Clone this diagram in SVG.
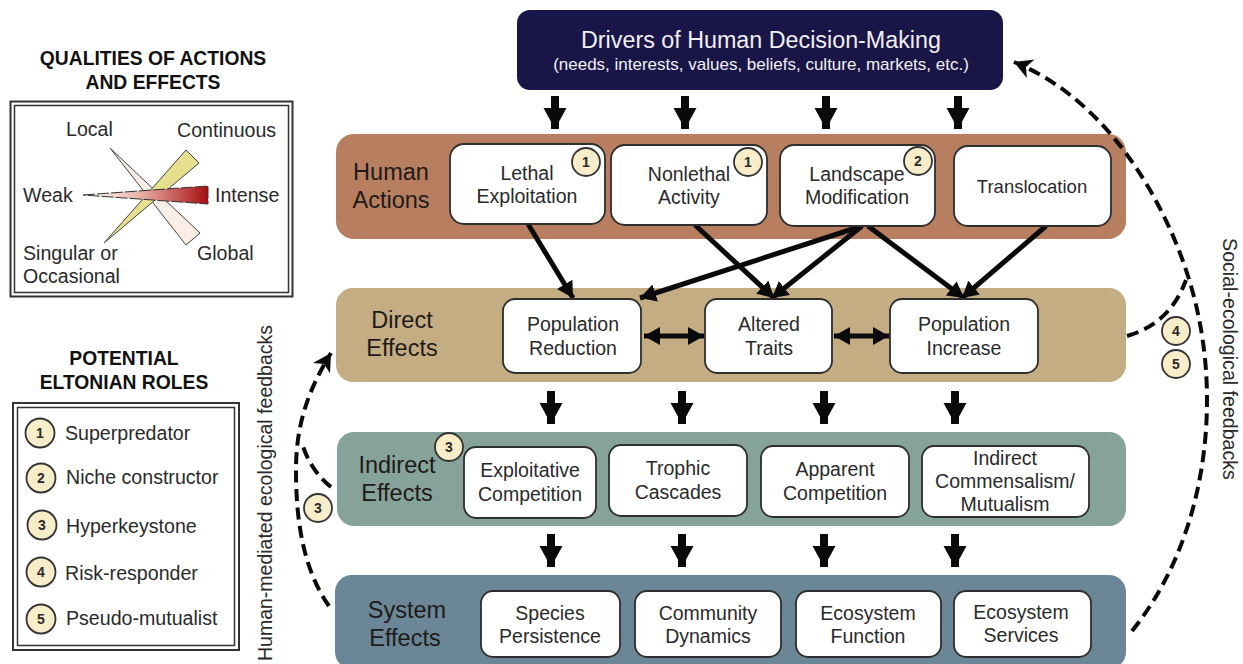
<svg xmlns="http://www.w3.org/2000/svg" width="1243" height="664" viewBox="0 0 1243 664">
<style>
text{font-family:"Liberation Sans",Arial,sans-serif;fill:#2a2a2a;text-anchor:middle}
.t{font-size:19.500px}
.h{font-size:23.500px;fill:#1f1a18}
.q{font-size:19.300px;font-weight:bold;fill:#111}
.l{font-size:19.600px;text-anchor:start}
.b{fill:#fff;stroke:#2e2e2e;stroke-width:1.800}
.c{fill:#f7edc8;stroke:#333;stroke-width:1.800}
.n{font-size:14px;font-weight:bold}
.a{stroke:#0a0a0a;stroke-width:5;fill:none;marker-end:url(#ah)}
.v{stroke:#0a0a0a;stroke-width:8;fill:none;marker-end:url(#vh)}
.d{stroke:#0a0a0a;stroke-width:5;fill:none;marker-end:url(#ah);marker-start:url(#as)}
.f{stroke:#0a0a0a;stroke-width:4;fill:none;stroke-dasharray:12 6.500}
</style>
<defs>
<marker id="ah" markerUnits="userSpaceOnUse" markerWidth="20" markerHeight="20" refX="16" refY="9" orient="auto"><path d="M0 0L16 9L0 18Z" fill="#0a0a0a"/></marker>
<marker id="as" markerUnits="userSpaceOnUse" markerWidth="20" markerHeight="20" refX="0" refY="9" orient="auto"><path d="M16 0L0 9L16 18Z" fill="#0a0a0a"/></marker>
<marker id="vh" markerUnits="userSpaceOnUse" markerWidth="24" markerHeight="26" refX="21" refY="11.500" orient="auto"><path d="M0 0L21 11.500L0 23Z" fill="#0a0a0a"/></marker>
<marker id="fh" markerUnits="userSpaceOnUse" markerWidth="24" markerHeight="24" refX="18" refY="10" orient="auto"><path d="M0 0L18 10L0 20L5 10Z" fill="#0a0a0a"/></marker>
<linearGradient id="red"><stop offset="0" stop-color="#fff"/><stop offset=".45" stop-color="#e8b4a8"/><stop offset="1" stop-color="#a80e12"/></linearGradient>
</defs>

<g id="legend-qualities">
<text class="q" x="153" y="65">QUALITIES OF ACTIONS</text>
<text class="q" x="153" y="89">AND EFFECTS</text>
<rect x="10.500" y="101.500" width="282" height="195" fill="none" stroke="#333" stroke-width="2"/>
<rect x="14.500" y="105.500" width="274" height="187" fill="#fff" stroke="#333" stroke-width="1.500"/>
<path d="M110 148L200 233L186 245Z" fill="#fbeee6" stroke="#444" stroke-width="1"/>
<path d="M186 150L199 163L104 243Z" fill="#e6e08e" stroke="#444" stroke-width="1"/>
<path d="M83 195L208 186V204Z" fill="url(#red)" stroke="#333" stroke-width="1" stroke-dasharray="12 2"/>
<text class="l" x="66" y="136">Local</text>
<text class="l" x="177" y="137">Continuous</text>
<text class="l" x="23" y="202">Weak</text>
<text class="l" x="215" y="202">Intense</text>
<text class="l" x="23" y="260">Singular or</text>
<text class="l" x="23" y="283">Occasional</text>
<text class="l" x="197" y="260">Global</text>
</g>

<g id="legend-roles">
<text class="q" x="124" y="365">POTENTIAL</text>
<text class="q" x="124" y="389">ELTONIAN ROLES</text>
<rect x="13" y="403" width="226" height="247" fill="none" stroke="#333" stroke-width="2"/>
<rect x="17.500" y="407.500" width="217" height="238" fill="#fff" stroke="#333" stroke-width="1.500"/>
<circle class="c" cx="40" cy="433" r="14.500"/><text class="n" x="40" y="438">1</text><text class="l" x="65" y="440">Superpredator</text>
<circle class="c" cx="41" cy="478" r="14.500"/><text class="n" x="41" y="483">2</text><text class="l" x="66" y="484">Niche constructor</text>
<circle class="c" cx="42" cy="525" r="14.500"/><text class="n" x="42" y="530">3</text><text class="l" x="66" y="533">Hyperkeystone</text>
<circle class="c" cx="41" cy="572" r="14.500"/><text class="n" x="41" y="577">4</text><text class="l" x="65" y="580">Risk-responder</text>
<circle class="c" cx="41" cy="619" r="14.500"/><text class="n" x="41" y="624">5</text><text class="l" x="66" y="625">Pseudo-mutualist</text>
</g>

<g id="drivers">
<rect x="517" y="10" width="486" height="80" rx="13" fill="#1a1547"/>
<text x="761" y="48" style="font-size:23.300px;fill:#f0f0f4">Drivers of Human Decision-Making</text>
<text x="761" y="70" style="font-size:17px;fill:#f0f0f4">(needs, interests, values, beliefs, culture, markets, etc.)</text>
</g>

<g id="human-actions">
<rect x="336" y="134" width="790" height="105" rx="18" fill="#b77e60"/>
<text class="h" x="391" y="180">Human</text><text class="h" x="391" y="208">Actions</text>
</g>
<g id="direct-effects">
<rect x="336" y="288" width="790" height="94" rx="17" fill="#c4ad83"/>
<text class="h" x="402" y="328">Direct</text><text class="h" x="402" y="356">Effects</text>
</g>
<g id="indirect-effects">
<rect x="337" y="432" width="789" height="94" rx="17" fill="#85a398"/>
<text class="h" x="397" y="473">Indirect</text><text class="h" x="397" y="501">Effects</text>
</g>
<g id="system-effects">
<rect x="335" y="575" width="791" height="94" rx="17" fill="#6b8696"/>
<text class="h" x="407" y="618">System</text><text class="h" x="405" y="646">Effects</text>
</g>

<g id="connectors">
<path class="v" d="M555 96V129"/><path class="v" d="M685 96V129"/><path class="v" d="M826 96V129"/><path class="v" d="M958 96V129"/>
<path class="a" d="M528 224L573 298"/>
<path class="a" d="M695 225L774 298"/>
<path class="a" d="M862 226L640 298"/>
<path class="a" d="M862 226L772 298"/>
<path class="a" d="M868 226L964 298"/>
<path class="a" d="M1046 226L962 298"/>
<path class="d" d="M644 336H704"/>
<path class="d" d="M834 336H889"/>
<path class="v" d="M551 391V424"/><path class="v" d="M682 391V424"/><path class="v" d="M824 391V424"/><path class="v" d="M955 391V424"/>
<path class="v" d="M551 534V567"/><path class="v" d="M682 534V567"/><path class="v" d="M824 534V567"/><path class="v" d="M955 534V567"/>
<path class="f" d="M329 606C300 565 296 510 296 470C296 430 305 395 331 353" marker-end="url(#fh)"/>
<path class="f" d="M331 487C316 475 307 460 302 443"/>
<path class="f" d="M1132 631C1185 565 1207 480 1207 400C1207 330 1190 260 1150 190C1115 130 1070 85 1014 62" marker-end="url(#fh)"/>
<path class="f" d="M1127 336C1155 328 1175 310 1186 280"/>
</g>

<g id="lethal"><rect class="b" x="450" y="144" width="155" height="80" rx="14"/><text class="t" x="527" y="180">Lethal</text><text class="t" x="527" y="203">Exploitation</text></g>
<g id="nonlethal"><rect class="b" x="611" y="145" width="156" height="80" rx="14"/><text class="t" x="689" y="181">Nonlethal</text><text class="t" x="689" y="204">Activity</text></g>
<g id="landscape"><rect class="b" x="780" y="145" width="155" height="81" rx="14"/><text class="t" x="857" y="181">Landscape</text><text class="t" x="857" y="204">Modification</text></g>
<g id="translocation"><rect class="b" x="954" y="146" width="157" height="80" rx="14"/><text class="t" x="1032" y="193" style="font-size:18.500px">Translocation</text></g>
<g id="population-reduction"><rect class="b" x="503" y="299" width="138" height="74" rx="12"/><text class="t" x="573" y="331">Population</text><text class="t" x="573" y="355">Reduction</text></g>
<g id="altered-traits"><rect class="b" x="705" y="299" width="127" height="74" rx="12"/><text class="t" x="769" y="331">Altered</text><text class="t" x="769" y="355">Traits</text></g>
<g id="population-increase"><rect class="b" x="890" y="299" width="148" height="74" rx="12"/><text class="t" x="964" y="331">Population</text><text class="t" x="964" y="355">Increase</text></g>
<g id="exploitative"><rect class="b" x="464" y="447" width="132" height="71" rx="12"/><text class="t" x="530" y="477">Exploitative</text><text class="t" x="530" y="501">Competition</text></g>
<g id="trophic"><rect class="b" x="609" y="445" width="138" height="71" rx="12"/><text class="t" x="678" y="475">Trophic</text><text class="t" x="678" y="499">Cascades</text></g>
<g id="apparent"><rect class="b" x="761" y="446" width="148" height="71" rx="12"/><text class="t" x="835" y="476">Apparent</text><text class="t" x="835" y="500">Competition</text></g>
<g id="commensalism"><rect class="b" x="922" y="446" width="167" height="71" rx="12"/><text class="t" x="1005" y="465">Indirect</text><text class="t" x="1005" y="488">Commensalism/</text><text class="t" x="1005" y="511">Mutualism</text></g>
<g id="species"><rect class="b" x="481" y="591" width="139" height="66" rx="12"/><text class="t" x="550" y="620">Species</text><text class="t" x="550" y="643">Persistence</text></g>
<g id="community"><rect class="b" x="635" y="591" width="146" height="66" rx="12"/><text class="t" x="708" y="620">Community</text><text class="t" x="708" y="643">Dynamics</text></g>
<g id="function"><rect class="b" x="796" y="591" width="145" height="66" rx="12"/><text class="t" x="868" y="620">Ecosystem</text><text class="t" x="868" y="643">Function</text></g>
<g id="services"><rect class="b" x="954" y="591" width="137" height="66" rx="12"/><text class="t" x="1021" y="619">Ecosystem</text><text class="t" x="1021" y="642">Services</text></g>

<g id="badges">
<circle class="c" cx="586" cy="162" r="14"/><text class="n" x="586" y="167">1</text>
<circle class="c" cx="748" cy="162" r="14"/><text class="n" x="748" y="167">1</text>
<circle class="c" cx="918" cy="161" r="14"/><text class="n" x="918" y="166">2</text>
<circle class="c" cx="449" cy="447" r="14"/><text class="n" x="449" y="452">3</text>
<circle class="c" cx="318" cy="508" r="14"/><text class="n" x="318" y="513">3</text>
<circle class="c" cx="1176" cy="331" r="14"/><text class="n" x="1176" y="336">4</text>
<circle class="c" cx="1176" cy="364" r="14"/><text class="n" x="1176" y="369">5</text>
</g>

<text x="0" y="0" transform="translate(272 493) rotate(-90)" style="font-size:19.500px">Human-mediated ecological feedbacks</text>
<text x="0" y="0" transform="translate(1223 359) rotate(90)" style="font-size:19.600px">Social-ecological feedbacks</text>
</svg>
